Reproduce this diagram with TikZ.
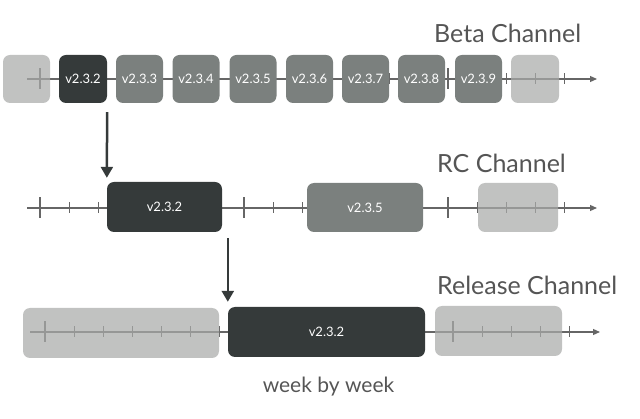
\documentclass[tikz,border=0pt]{standalone}
\usepackage{fontspec}
\setmainfont{Lato}
\usetikzlibrary{arrows.meta, calc}

\definecolor{boxdark}{HTML}{353A3A}
\definecolor{boxmid}{HTML}{7B807E}
\definecolor{boxpale}{HTML}{A9AAA9}
\definecolor{axisgray}{HTML}{666666}
\definecolor{titlegray}{HTML}{555555}

\tikzset{
  ver/.style={rounded corners=7pt, inner sep=0pt, text=white, font=\fontsize{13}{15}\selectfont},
  dark/.style={ver, fill=boxdark},
  mid/.style={ver, fill=boxmid},
  pale/.style={ver, fill=boxpale, fill opacity=0.72},
  axis/.style={axisgray, line width=1.2pt, -{Triangle[length=7pt,width=6pt]}},
  tick/.style={axisgray, line width=1.2pt},
  chan/.style={anchor=base west, text=titlegray, font=\fontsize{25}{30}\selectfont, inner sep=0pt},
  promote/.style={boxdark, line width=2.5pt, -{Triangle[length=11pt,width=12pt]}}
}

\begin{document}
\begin{tikzpicture}[x=1pt, y=-1pt]
  \useasboundingbox (0,0) rectangle (640,419);

  % time axes
  \coordinate (bs) at (27,79);  \coordinate (be) at (597,79);
  \coordinate (rs) at (27,208); \coordinate (re) at (597,208);
  \coordinate (ls) at (30,332); \coordinate (le) at (600,332);
  \draw[axis] (bs) -- (be);
  \draw[axis] (rs) -- (re);
  \draw[axis] (ls) -- (le);

  % one tick per day, long tick per week
  \foreach \k in {0,...,18} {
    \pgfmathsetmacro{\len}{mod(\k,7)==0 ? 10.5 : 5.5}
    \draw[tick] ($(bs)+(13+29.14*\k,-\len)$) -- ++(0,2*\len);
    \draw[tick] ($(rs)+(13+29.14*\k,-\len)$) -- ++(0,2*\len);
    \draw[tick] ($(ls)+(15+29.14*\k,-\len)$) -- ++(0,2*\len);
  }

  % beta channel
  \node[pale, minimum width=47pt, minimum height=48pt] (b0) at (26.5,79) {};
  \node[dark, minimum width=48pt, minimum height=48pt] (b232) at (83,79) {v2.3.2};
  \node[mid, minimum width=47pt, minimum height=48pt] (b233) at (139.5,79) {v2.3.3};
  \node[mid, minimum width=47pt, minimum height=48pt] (b234) at (196,79) {v2.3.4};
  \node[mid, minimum width=47pt, minimum height=48pt] (b235) at (253,79) {v2.3.5};
  \node[mid, minimum width=47pt, minimum height=48pt] (b236) at (309.5,79) {v2.3.6};
  \node[mid, minimum width=47pt, minimum height=48pt] (b237) at (365.5,79) {v2.3.7};
  \node[mid, minimum width=47pt, minimum height=48pt] (b238) at (421.5,79) {v2.3.8};
  \node[mid, minimum width=47pt, minimum height=48pt] (b239) at (478.5,79) {v2.3.9};
  \node[pale, minimum width=48pt, minimum height=48pt] (b1) at (535,79) {};
  \node[chan] (beta) at (434,43) {Beta Channel};

  % rc channel
  \node[dark, minimum width=115pt, minimum height=50pt] (r232) at (164.5,207) {v2.3.2};
  \node[mid, minimum width=116pt, minimum height=49pt] (r235) at (365,207.5) {v2.3.5};
  \node[pale, minimum width=80pt, minimum height=49pt] (r1) at (518,207.5) {};
  \node[chan] (rc) at (437,173) {RC Channel};

  % release channel
  \node[pale, minimum width=196pt, minimum height=50pt] (l0) at (121,333) {};
  \node[dark, minimum width=197pt, minimum height=50pt] (l232) at (326.5,332) {v2.3.2};
  \node[pale, minimum width=127pt, minimum height=50pt] (l1) at (498.5,331) {};
  \node[chan] (rel) at (437,295) {Release Channel};

  % promotions
  \draw[promote, shorten <=9pt, shorten >=4pt] (b232.south east) -- (r232.north west);
  \draw[promote, shorten <=6pt, shorten >=5pt] (l232.north west |- r232.south) -- (l232.north west);

  \node[anchor=base, text=titlegray, font=\fontsize{21}{24}\selectfont, inner sep=0pt] (week) at (328.5,393) {week by week};
\end{tikzpicture}
\end{document}
